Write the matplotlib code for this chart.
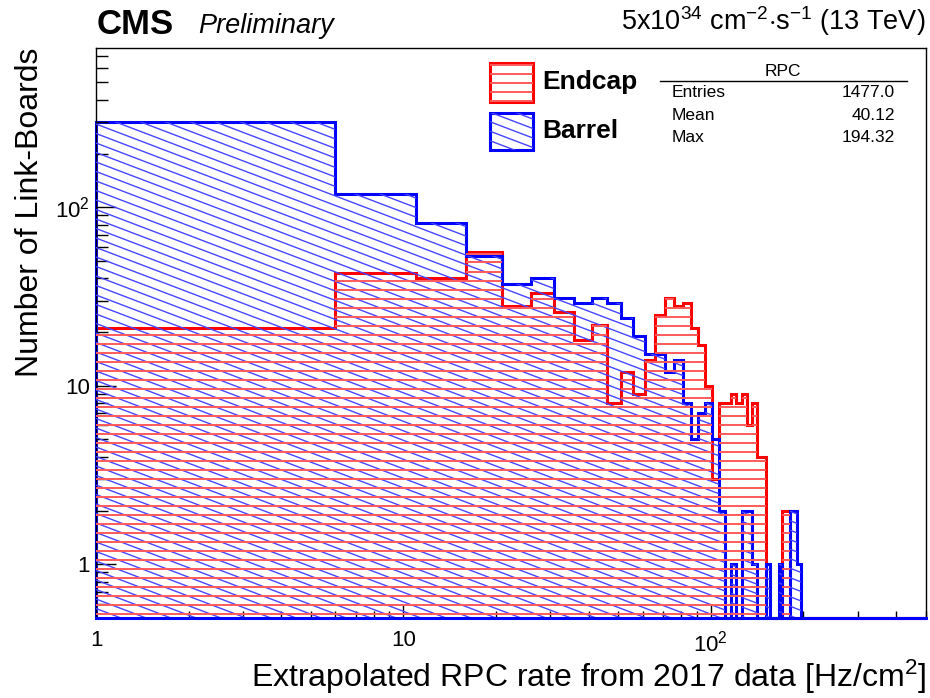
import numpy as np
import matplotlib
matplotlib.use("Agg")
import matplotlib.pyplot as plt
from matplotlib.collections import LineCollection
from matplotlib.patches import Rectangle
from matplotlib.ticker import FixedLocator, FixedFormatter, LogLocator, NullFormatter

plt.rcParams['font.family'] = ['Liberation Sans', 'DejaVu Sans']
plt.rcParams['mathtext.fontset'] = 'custom'
plt.rcParams['mathtext.rm'] = 'Liberation Sans'
plt.rcParams['mathtext.it'] = 'Liberation Sans:italic'
plt.rcParams['mathtext.bf'] = 'Liberation Sans:bold'

# bins of 5 Hz/cm2 starting at 1 (1, 6, 11, ... 501)
bin_width = 5
bin_start = 1
n_bins = 100

# link-board counts per bin (bins above 196 are empty)
endcap = [21, 43, 40, 56, 28, 33, 26, 18, 22, 8,
          12, 9, 14, 25, 31, 28, 29, 21, 17, 10,
          3, 8, 8, 9, 8, 9, 6, 8, 4, 4,
          0, 0, 0, 0, 2, 2, 0, 0, 0]
barrel = [300, 119, 82, 53, 37, 40, 31, 29, 31, 29,
          24, 19, 15, 15, 12, 14, 8, 5, 7, 8,
          5, 2, 0, 1, 0, 2, 2, 1, 0, 0,
          1, 0, 0, 1, 0, 0, 2, 2, 1]

stat_names = ['Entries', 'Mean', 'Max']
stat_values = ['1477.0', '40.12', '194.32']

x_ticks = [1, 10, 100]
x_ticklabels = ['1', '10', '$10^2$']
y_ticks = [1, 10, 100]
y_ticklabels = ['1', '10', '$10^2$']

ymin, ymax = 0.5, 780
xmin, xmax = 1, 501

edges = bin_start + bin_width * np.arange(n_bins + 1)


def pad(vals):
    v = np.zeros(n_bins)
    v[:len(vals)] = vals
    # empty bins sit on the bottom of the frame, like ROOT does
    return np.where(v > 0, v, ymin)


endcap_v = pad(endcap)
barrel_v = pad(barrel)

RED = '#ff0000'
BLUE = '#0000ff'
RED_HATCH = '#ff5a5a'
BLUE_HATCH = '#4646ff'

fig = plt.figure(figsize=(9.30, 6.98), dpi=100)
W, H = 930, 698
ax = fig.add_axes([96 / W, 1 - 618 / H, (926 - 96) / W, (618 - 48) / H])
ax.set_xscale('log')
ax.set_yscale('log')
ax.set_xlim(xmin, xmax)
ax.set_ylim(ymin, ymax)

ax_w, ax_h = 830, 570


def horiz_hatch(spacing=9.0):
    ys = np.arange(spacing / 2, ax_h, spacing) / ax_h
    return [[(0, y), (1, y)] for y in ys]


def diag_hatch(spacing=9.5, slope=0.38):
    segs = []
    drop = slope * ax_w
    c = -drop
    while c < ax_h + drop:
        segs.append([(0, (c + drop) / ax_h), (1, c / ax_h)])
        c += spacing
    return segs


# fills (invisible patches used to clip the hatching)
bar_fill = ax.stairs(barrel_v, edges, baseline=ymin, fill=True,
                     facecolor='none', edgecolor='none')
end_fill = ax.stairs(endcap_v, edges, baseline=ymin, fill=True,
                     facecolor='none', edgecolor='none')

lc_b = LineCollection(diag_hatch(), colors=BLUE_HATCH, linewidths=1.0,
                      transform=ax.transAxes)
ax.add_collection(lc_b)
lc_b.set_clip_path(bar_fill)

lc_r = LineCollection(horiz_hatch(), colors=RED_HATCH, linewidths=1.4,
                      transform=ax.transAxes)
ax.add_collection(lc_r)
lc_r.set_clip_path(end_fill)

# outlines (not clipped, so the edges on the frame stay full width)
ax.stairs(endcap_v, edges, baseline=ymin, color=RED, lw=2.2, clip_on=False)
ax.stairs(barrel_v, edges, baseline=ymin, color=BLUE, lw=2.2, clip_on=False)
ax.plot([xmin, xmax], [ymin, ymin], color=BLUE, lw=2.2, clip_on=False)

# axes style
for s in ax.spines.values():
    s.set_linewidth(1.0)
    s.set_zorder(1)
ax.xaxis.set_major_locator(FixedLocator(x_ticks))
ax.xaxis.set_major_formatter(FixedFormatter(x_ticklabels))
ax.yaxis.set_major_locator(FixedLocator(y_ticks))
ax.yaxis.set_major_formatter(FixedFormatter(y_ticklabels))
ax.xaxis.set_minor_locator(LogLocator(base=10, subs=np.arange(2, 10), numticks=20))
ax.yaxis.set_minor_locator(LogLocator(base=10, subs=np.arange(2, 10), numticks=20))
ax.xaxis.set_minor_formatter(NullFormatter())
ax.yaxis.set_minor_formatter(NullFormatter())
ax.tick_params(which='both', direction='in', top=False, right=False, labelsize=16)
ax.tick_params(axis='x', which='major', length=9.5, width=1, pad=9)
ax.tick_params(axis='x', which='minor', length=5, width=1)
ax.tick_params(axis='y', which='major', length=14.5, width=1, pad=4.5)
ax.tick_params(axis='y', which='minor', length=8.7, width=1)

# axis titles, right/top aligned like ROOT
fig.text(926 / W, 1 - 687.5 / H, 'Extrapolated RPC rate from 2017 data [Hz/cm$^2$]',
         fontsize=23, ha='right', va='baseline')
fig.text(38 / W, 1 - 48 / H, 'Number of Link-Boards', fontsize=23,
         rotation=90, rotation_mode='anchor', ha='right', va='baseline')

# header texts
fig.text(97 / W, 1 - 33.5 / H, 'CMS', fontsize=25, fontweight='bold',
         ha='left', va='baseline')
fig.text(198 / W, 1 - 33 / H, 'Preliminary', fontsize=19.5, fontstyle='italic',
         ha='left', va='baseline')
fig.text(925 / W, 1 - 30 / H,
         r'5x10$^{34}$ cm$^{-2}$$\cdot$s$^{-1}$ (13 TeV)', fontsize=19.5,
         ha='right', va='baseline')


# legend
def ax_x(px):
    return (px - 96) / ax_w


def ax_y(py):
    return (618 - py) / ax_h


for (y0, y1, col, label, hatch_fn, hcol, hlw) in [
        (63, 102, RED, 'Endcap', horiz_hatch, RED_HATCH, 1.4),
        (113, 150, BLUE, 'Barrel', diag_hatch, BLUE_HATCH, 1.0)]:
    box = Rectangle((ax_x(490), ax_y(y1)), ax_x(533) - ax_x(490), ax_y(y0) - ax_y(y1),
                    transform=ax.transAxes, facecolor='white', edgecolor=col,
                    lw=2.2, zorder=5)
    ax.add_patch(box)
    lc = LineCollection(hatch_fn(), colors=hcol, linewidths=hlw,
                        transform=ax.transAxes, zorder=5)
    ax.add_collection(lc)
    lc.set_clip_path(box)
    ax.text(ax_x(542), ax_y((y0 + y1) / 2), label, transform=ax.transAxes,
            fontsize=19, fontweight='bold', ha='left', va='center', zorder=6)

# stats box
ax.text(ax_x(783), ax_y(72), 'RPC', transform=ax.transAxes, fontsize=12.5,
        ha='center', va='center')
ax.plot([ax_x(660), ax_x(907)], [ax_y(80.7), ax_y(80.7)], color='black', lw=1.0,
        transform=ax.transAxes)
for name, val, py in zip(stat_names, stat_values, [92.7, 115, 137.3]):
    ax.text(ax_x(672), ax_y(py), name, transform=ax.transAxes, fontsize=12.5,
            ha='left', va='center')
    ax.text(ax_x(895), ax_y(py), val, transform=ax.transAxes, fontsize=12.5,
            ha='right', va='center')

plt.savefig('out.png', dpi=100)
